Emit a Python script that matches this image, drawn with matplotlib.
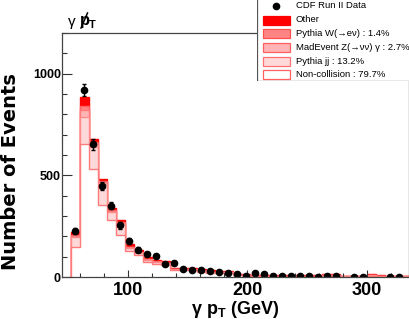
import numpy as np
import matplotlib
matplotlib.use("Agg")
import matplotlib.pyplot as plt
from matplotlib.patches import Rectangle
from matplotlib.lines import Line2D
from matplotlib.ticker import MultipleLocator

plt.rcParams['font.family'] = ['Liberation Sans', 'DejaVu Sans']
plt.rcParams['mathtext.fontset'] = 'custom'
plt.rcParams['mathtext.rm'] = 'Liberation Sans'
plt.rcParams['mathtext.bf'] = 'Liberation Sans:bold'
plt.rcParams['mathtext.it'] = 'Liberation Sans:italic'

# ---- data (bins of 7.5 GeV from 52.5 GeV) ----
bin_edges = np.arange(52.5, 337.6, 7.5)
data_counts = [228, 919, 652, 448, 351, 254, 177, 134, 112, 102, 62, 68, 40, 36, 36, 28,
               23, 20, 16, 7, 20, 13, 6, 6, 4, 4, 3, 2, 4, 3, 0, 2, 1, 0, 0, 2, 2, 0]
mc_noncollision = [147, 652, 529, 354, 278, 206, 130, 106, 76, 65, 60, 34, 32, 32, 27, 22,
                   21, 20, 9, 7.5, 4.9, 4.9, 3.9, 3.9, 3.9, 3.9, 3.9, 3.9, 8.7, 7, 2, 2,
                   2, 6.2, 5.4, 2, 2, 2]
mc_jj = [48, 137, 111, 104, 42, 55, 14, 12, 9, 8, 7, 4, 4, 4, 3, 3,
         3, 3, 2, 1.5, 1, 1, 1, 1, 1, 1, 1, 1, 1.5, 1.2, 0.6, 0.6,
         0.6, 1.2, 1, 0.6, 0.6, 0.6]
mc_zg = [6, 30, 14, 9, 6, 5, 3, 3, 2, 2, 2, 1, 1, 1, 1, 1,
         1, 1, 0.5, 0.5, 0.3, 0.3, 0.3, 0.3, 0.3, 0.3, 0.3, 0.3, 0.4, 0.4, 0.2, 0.2,
         0.2, 0.3, 0.3, 0.2, 0.2, 0.2]
mc_w = [6, 20, 10, 5, 5, 4, 3, 3, 2, 2, 2, 1, 1, 1, 1, 1,
        1, 1, 0.5, 0.5, 0.3, 0.3, 0.3, 0.3, 0.3, 0.3, 0.3, 0.3, 0.4, 0.4, 0.2, 0.2,
        0.2, 0.3, 0.3, 0.2, 0.2, 0.2]
mc_other = [13, 47, 16, 12, 9, 11, 10, 10, 8, 7, 7, 6, 6, 6, 5, 5,
            5, 5, 5, 5, 4.5, 4.5, 4.5, 4.5, 4.5, 4.5, 4.5, 4.5, 5, 5, 3, 3,
            3, 5, 5, 3, 3, 3]

legend_labels = ["CDF Run II Data", "Other", "Pythia W(\u2192e\u03bd) : 1.4%",
                 "MadEvent Z(\u2192\u03bd\u03bd) \u03b3 : 2.7%", "Pythia jj : 13.2%",
                 "Non-collision : 79.7%"]

# bottom -> top: non-collision, jj, Z, W, other
layer_fill = ['#ffffff', '#ffd9d9', '#ffb5b5', '#ff8585', '#ff0000']
layer_edge = ['#ff7a7a', '#ff8a8a', '#ff7a7a', '#ff6060', '#ff0000']

W, H = 410, 319
fig = plt.figure(figsize=(W / 100, H / 100), dpi=100)
x0, x1, y0, y1 = 62, 409, 33, 277
ax = fig.add_axes([x0 / W, 1 - y1 / H, (x1 - x0) / W, (y1 - y0) / H])

layers = [mc_noncollision, mc_jj, mc_zg, mc_w, mc_other]
cums = np.cumsum(np.array(layers, float), axis=0)
# draw like a stacked histogram: largest cumulative first, each filled from zero
for i in range(len(layers) - 1, -1, -1):
    ax.stairs(cums[i], bin_edges, baseline=0, fill=True, facecolor=layer_fill[i],
              edgecolor=layer_edge[i], lw=1.0)

centers = 0.5 * (bin_edges[:-1] + bin_edges[1:])
dc = np.asarray(data_counts, float)
m = dc > 0
ax.errorbar(centers[m], dc[m], yerr=np.sqrt(dc[m]), fmt='o', color='black',
            markersize=4.5, elinewidth=1.0, capsize=1.3, capthick=1.0, zorder=5)

ax.set_xlim(45, 335)
ax.set_ylim(0, 1200)
ax.xaxis.set_major_locator(MultipleLocator(100))
ax.xaxis.set_minor_locator(MultipleLocator(20))
ax.yaxis.set_major_locator(MultipleLocator(500))
ax.yaxis.set_minor_locator(MultipleLocator(100))
ax.tick_params(axis='both', which='both', direction='in', top=False, right=False,
               colors='#333333', labelcolor='black')
ax.tick_params(axis='y', which='major', length=7.5, width=0.8, pad=0.8)
ax.tick_params(axis='y', which='minor', length=3.7, width=0.8)
ax.tick_params(axis='x', which='major', length=5.3, width=0.8, pad=3.5)
ax.tick_params(axis='x', which='minor', length=2.6, width=0.8)
for lab in ax.get_yticklabels():
    lab.set_fontweight('bold'); lab.set_fontsize(9)
for lab in ax.get_xticklabels():
    lab.set_fontweight('bold'); lab.set_fontsize(13)
for sp in ax.spines.values():
    sp.set_color('#444444'); sp.set_linewidth(0.9)
    sp.set_zorder(6)

ax.set_xlabel("\u03b3 $\\mathbf{p_T}$ (GeV)", fontsize=13, fontweight='bold', va='center')
ax.xaxis.set_label_coords(0.5, -(309 - y1) / (y1 - y0))
ax.set_ylabel("Number of Events", fontsize=14, fontweight='bold', va='center',
              family=['DejaVu Sans'])
ax.yaxis.set_label_coords(-(x0 - 10) / (x1 - x0), (y1 - 172) / (y1 - y0))

# title: gamma, slashed p, subscript T
fig.text(68 / W, 1 - 22 / H, "\u03b3", fontsize=11, va='center', ha='left')
fig.text(79.5 / W, 1 - 21 / H, "p", fontsize=12, fontweight='bold', va='center', ha='left')
fig.add_artist(Line2D([81 / W, 87.5 / W], [1 - 28 / H, 1 - 13 / H], color='black', lw=1.1))
fig.text(89 / W, 1 - 25 / H, "T", fontsize=8, fontweight='bold', va='center', ha='left')

# legend
lx0, ly1 = 257, 81
lax = fig.add_axes([lx0 / W, 1 - ly1 / H, (W + 3 - lx0) / W, (ly1 + 3) / H])
lax.set_xlim(0, W + 3 - lx0)
lax.set_ylim(ly1, -3)
lax.axis('off')
lax.add_patch(Rectangle((0, -3), W + 3 - lx0 - 0.5, ly1 + 3, facecolor='white',
                        edgecolor='#555555', lw=0.9))
rows_y = [6, 20, 33.5, 47, 61, 74.5]
lax.plot([19.5], [rows_y[0]], 'o', color='black', markersize=4.5)
leg_fill = ['#ff0000', '#ff8585', '#ffb5b5', '#ffd9d9', '#ffffff']
leg_edge = ['#ff0000', '#ff5050', '#ff6060', '#ff7070', '#ff6060']
for yy, fc, ec in zip(rows_y[1:], leg_fill, leg_edge):
    lax.add_patch(Rectangle((6.5, yy - 4.5), 27, 9, facecolor=fc, edgecolor=ec, lw=0.9))
for yy, lab in zip(rows_y, legend_labels):
    lax.text(39, yy, lab, fontsize=6.8, va='center', ha='left')

fig.savefig("out.png", dpi=100)
